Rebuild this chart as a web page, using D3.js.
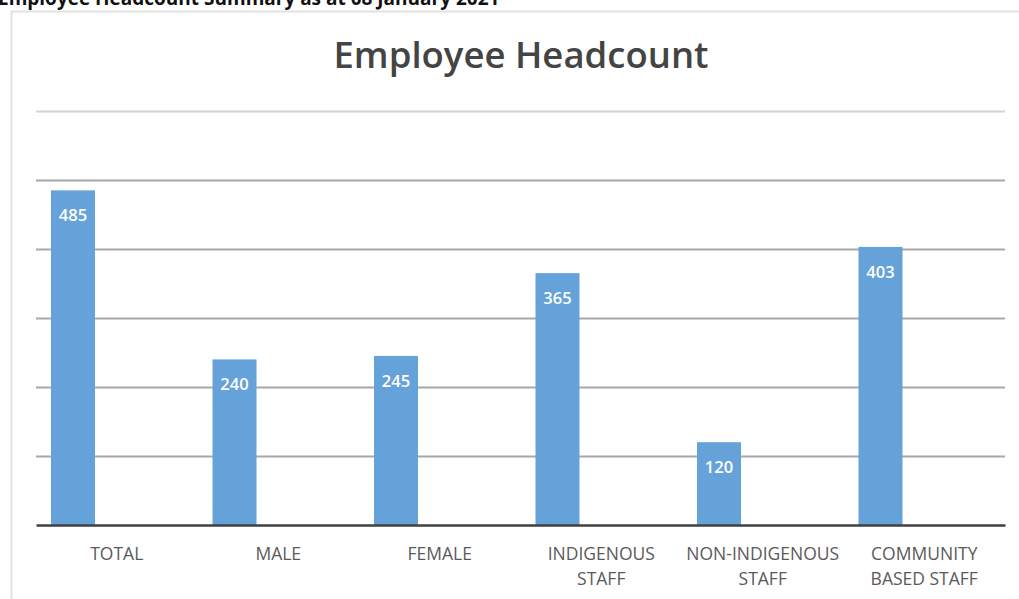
<!DOCTYPE html>
<html>
<head>
<meta charset="utf-8">
<script src="https://cdn.jsdelivr.net/npm/d3@7"></script>
<style>
  html, body { margin: 0; padding: 0; background: #fff; }
  svg { display: block; }
</style>
</head>
<body>
<svg id="chart" width="1019" height="599"></svg>
<script>
// Headcount by staff group
const categories = [
  ["TOTAL"],
  ["MALE"],
  ["FEMALE"],
  ["INDIGENOUS", "STAFF"],
  ["NON-INDIGENOUS", "STAFF"],
  ["COMMUNITY", "BASED STAFF"]
];
const headcount = [485, 240, 245, 365, 120, 403];
const yTicks = [0, 100, 200, 300, 400, 500, 600];

const svg = d3.select("#chart");
const W = 1019, H = 599;
const plot = { left: 36, right: 1005, top: 111, bottom: 525 };
const font = "'Open Sans', 'Liberation Sans', sans-serif";

// Page heading above the chart frame (runs off the top edge)
svg.append("text")
  .attr("x", -2).attr("y", 5)
  .attr("font-family", font).attr("font-weight", 700)
  .attr("font-size", 19).attr("fill", "#111")
  .text("Employee Headcount Summary as at 08 January 2021");

// Chart frame
svg.append("line").attr("x1", 11).attr("x2", W).attr("y1", 11.5).attr("y2", 11.5)
  .attr("stroke", "#e2e2e2").attr("stroke-width", 2);
svg.append("line").attr("x1", 11.5).attr("x2", 11.5).attr("y1", 11).attr("y2", H)
  .attr("stroke", "#e2e2e2").attr("stroke-width", 2);

// Chart title
svg.append("text")
  .attr("x", 521).attr("y", 68)
  .attr("text-anchor", "middle")
  .attr("font-family", font).attr("font-weight", 600)
  .attr("font-size", 36.5).attr("fill", "#444")
  .text("Employee Headcount");

const x = d3.scaleBand()
  .domain(d3.range(categories.length))
  .range([plot.left, plot.right])
  .paddingInner(0).paddingOuter(0);

const y = d3.scaleLinear()
  .domain([0, 600])
  .range([plot.bottom, plot.top]);

// Horizontal gridlines
svg.append("g")
  .attr("transform", `translate(${plot.left},0)`)
  .call(d3.axisLeft(y).tickValues(yTicks.slice(1)).tickSize(-(plot.right - plot.left)).tickFormat(""))
  .call(g => g.select(".domain").remove())
  .call(g => g.selectAll(".tick line")
    .attr("stroke", d => d === 600 ? "#d4d4d4" : "#a8a8a8")
    .attr("stroke-width", 2));

// Bars sit at the left part of each category slot
const barOffset = 15, barWidth = 44;
const bars = svg.append("g");
bars.selectAll("rect")
  .data(headcount)
  .join("rect")
  .attr("x", (d, i) => x(i) + barOffset)
  .attr("width", barWidth)
  .attr("y", d => y(d))
  .attr("height", d => y(0) - y(d))
  .attr("fill", "#66a2da");

// Value labels inside the top of each bar
bars.selectAll("text")
  .data(headcount)
  .join("text")
  .attr("x", (d, i) => x(i) + barOffset + barWidth / 2)
  .attr("y", d => y(d) + 31)
  .attr("text-anchor", "middle")
  .attr("font-family", font).attr("font-weight", 600)
  .attr("font-size", 16.5).attr("fill", "#fff")
  .text(d => d);

// Category axis
const xAxis = svg.append("g")
  .attr("transform", `translate(0,${plot.bottom})`)
  .call(d3.axisBottom(x).tickSize(0).tickFormat(""));
xAxis.select(".domain").attr("stroke", "#404040").attr("stroke-width", 2.5);

xAxis.selectAll(".tick").append("text")
  .attr("fill", "#5a5a5a")
  .attr("font-family", font).attr("font-size", 17.5)
  .attr("text-anchor", "middle")
  .selectAll("tspan")
  .data(i => categories[i])
  .join("tspan")
  .attr("x", 0)
  .attr("y", (d, j) => 35 + j * 25)
  .text(d => d);
</script>
</body>
</html>
